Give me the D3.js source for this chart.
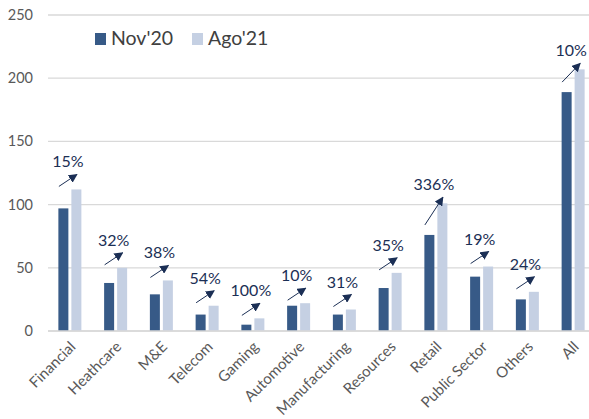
<!DOCTYPE html>
<html>
<head>
<meta charset="utf-8">
<script src="https://cdn.jsdelivr.net/npm/d3@7"></script>
<style>
  body { margin: 0; background: #fff; }
  text { font-family: Lato, "Noto Sans", sans-serif; }
</style>
</head>
<body>
<svg id="chart"></svg>
<script>
var categories = ["Financial", "Heathcare", "M&E", "Telecom", "Gaming", "Automotive", "Manufacturing", "Resources", "Retail", "Public Sector", "Others", "All"];
var nov20 = [97, 38, 29, 13, 5, 20, 13, 34, 76, 43, 25, 189];
var ago21 = [112, 50, 40, 20, 10, 22, 17, 46, 101, 51, 31, 207];
var growth = ["15%", "32%", "38%", "54%", "100%", "10%", "31%", "35%", "336%", "19%", "24%", "10%"];
var yTicks = [0, 50, 100, 150, 200, 250];
var seriesNames = ["Nov'20", "Ago'21"];

var width = 589, height = 419;
var colors = ["#375a87", "#c5d0e3"];
var navy = "#1b2f55";

var svg = d3.select("#chart")
  .attr("width", width)
  .attr("height", height);

var x = d3.scaleBand()
  .domain(categories)
  .range([47, 596]);

var y = d3.scaleLinear()
  .domain([0, 250])
  .range([331, 15]);

var barW = 10, gap = 3;

// gridlines + y labels
svg.selectAll(".grid")
  .data(yTicks)
  .enter().append("line")
    .attr("x1", 48)
    .attr("x2", width)
    .attr("y1", function(d) { return y(d); })
    .attr("y2", function(d) { return y(d); })
    .style("stroke", "#d9d9d9")
    .style("stroke-width", 1.3);

svg.selectAll(".ylab")
  .data(yTicks)
  .enter().append("text")
    .attr("x", 33)
    .attr("y", function(d) { return y(d); })
    .attr("dy", "0.35em")
    .style("text-anchor", "end")
    .style("font-size", "14.5px")
    .style("fill", "#595959")
    .text(function(d) { return d; });

// bars
var groups = svg.selectAll(".grp")
  .data(categories)
  .enter().append("g")
    .attr("transform", function(d) { return "translate(" + (x(d) + x.bandwidth() / 2) + ",0)"; });

groups.append("rect")
  .attr("x", -barW - gap / 2)
  .attr("width", barW)
  .attr("y", function(d, i) { return y(nov20[i]); })
  .attr("height", function(d, i) { return y(0) - y(nov20[i]); })
  .style("fill", colors[0]);

groups.append("rect")
  .attr("x", gap / 2)
  .attr("width", barW)
  .attr("y", function(d, i) { return y(ago21[i]); })
  .attr("height", function(d, i) { return y(0) - y(ago21[i]); })
  .style("fill", colors[1]);

// arrows
svg.append("defs").append("marker")
  .attr("id", "arrow")
  .attr("viewBox", "0 0 10 10")
  .attr("refX", 9)
  .attr("refY", 5)
  .attr("markerWidth", 9)
  .attr("markerHeight", 9)
  .attr("markerUnits", "userSpaceOnUse")
  .attr("orient", "auto")
  .append("path")
    .attr("d", "M0,0 L10,5 L0,10 Z")
    .style("fill", navy);

groups.each(function(d, i) {
  var lightTop = y(ago21[i]), darkTop = y(nov20[i]);
  var steep = darkTop - lightTop > 20;
  var tailY = steep ? darkTop - 10 : lightTop - 3;
  var headY = steep ? lightTop - 6 : lightTop - 15;
  var g = d3.select(this);
  g.append("line")
    .attr("x1", -11)
    .attr("y1", tailY)
    .attr("x2", 7)
    .attr("y2", headY)
    .style("stroke", navy)
    .style("stroke-width", 1)
    .attr("marker-end", "url(#arrow)");
  g.append("text")
    .attr("x", -2)
    .attr("y", headY - 7)
    .style("text-anchor", "middle")
    .style("font-size", "16px")
    .style("fill", navy)
    .text(growth[i]);
});

// baseline
svg.append("line")
  .attr("x1", 48).attr("x2", width)
  .attr("y1", y(0)).attr("y2", y(0))
  .style("stroke", "#d9d9d9")
  .style("stroke-width", 1.3);

// x labels
groups.append("text")
  .attr("transform", "translate(3," + (y(0) + 13) + ") rotate(-45)")
  .attr("dy", "0.35em")
  .style("text-anchor", "end")
  .style("font-size", "15px")
  .style("fill", "#595959")
  .text(function(d) { return d; });

// legend
var legend = svg.selectAll(".legend")
  .data(seriesNames)
  .enter().append("g")
    .attr("transform", function(d, i) { return "translate(" + (95 + i * 97) + ",33)"; });

legend.append("rect")
  .attr("width", 11)
  .attr("height", 12)
  .style("fill", function(d, i) { return colors[i]; });

legend.append("text")
  .attr("x", 16)
  .attr("y", 12)
  .style("font-size", "19.5px")
  .style("fill", "#404040")
  .text(function(d) { return d; });
</script>
</body>
</html>
